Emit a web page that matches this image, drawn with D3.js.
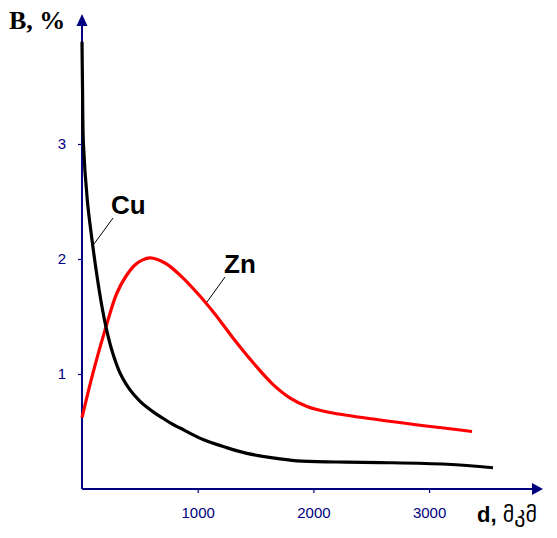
<!DOCTYPE html>
<html><head><meta charset="utf-8">
<script src="https://cdn.jsdelivr.net/npm/d3@7"></script>
<style>body{margin:0;background:#fff}svg{display:block}</style>
</head><body>
<svg id="c" width="557" height="538"></svg>
<script>
// Data
const xTicks = [1000, 2000, 3000];
const yTicks = [1, 2, 3];
const cuD = [0, 5, 12, 46, 86, 130, 170, 207, 260, 328, 380, 440, 500, 562, 630, 700, 770, 847, 1046, 1250, 1426, 1650, 1858, 2200, 2576, 3155, 3552];
const cuB = [3.89, 3.45, 3.01, 2.51, 2.17, 1.85, 1.60, 1.41, 1.20, 1.01, 0.915, 0.83, 0.765, 0.71, 0.66, 0.615, 0.57, 0.53, 0.43, 0.36, 0.31, 0.27, 0.245, 0.235, 0.23, 0.215, 0.185];
const znD = [0, 95, 207, 300, 380, 460, 520, 588, 717, 847, 1000, 1150, 1300, 1478, 1650, 1800, 1950, 2143, 2576, 3371];
const znB = [0.62, 1.01, 1.41, 1.70, 1.85, 1.95, 1.99, 2.01, 1.965, 1.86, 1.70, 1.52, 1.32, 1.10, 0.91, 0.79, 0.715, 0.665, 0.60, 0.50];
const seriesNames = ["Cu", "Zn"];
const yTitle = "B, %";
const xTitle = "d, ";
const xUnit = "მკმ";

const svg = d3.select("#c");
const navy = "#000080";
const x = d3.scaleLinear().domain([0, 4000]).range([82, 544.8]);
const y = d3.scaleLinear().domain([0, 4]).range([489, 29]);

// axes
const xa = svg.append("g").attr("transform", `translate(0,${y(0)})`)
  .call(d3.axisBottom(x).tickValues(xTicks).tickSize(4).tickPadding(14).tickFormat(d3.format("d")));
const ya = svg.append("g").attr("transform", `translate(${x(0)},0)`)
  .call(d3.axisLeft(y).tickValues(yTicks).tickSize(4).tickPadding(14).tickFormat(d3.format("d")));
[xa, ya].forEach(a => {
  a.attr("font-size", 15).attr("font-family", "Liberation Sans, Arial, sans-serif");
  a.select(".domain").remove();
  a.selectAll("line").attr("stroke", navy).attr("stroke-width", 1.2);
  a.selectAll("text").attr("fill", navy);
});
ya.selectAll("text").attr("text-anchor", "middle").attr("dx", "-2");

// axis lines with arrows
svg.append("line").attr("x1", x(0)).attr("y1", y(0)).attr("x2", 534).attr("y2", y(0))
  .attr("stroke", navy).attr("stroke-width", 2);
svg.append("path").attr("d", `M543,${y(0)} L532,${y(0)-6} L532,${y(0)+6} Z`).attr("fill", navy);
svg.append("line").attr("x1", x(0)).attr("y1", y(0)).attr("x2", x(0)).attr("y2", 25)
  .attr("stroke", navy).attr("stroke-width", 2);
svg.append("path").attr("d", `M${x(0)},14 L${x(0)-5.5},26 L${x(0)+5.5},26 Z`).attr("fill", navy);

// curves
const line = d3.line().x(d => x(d[0])).y(d => y(d[1])).curve(d3.curveCatmullRom.alpha(0.5));
const cu = cuD.map((d, i) => [d, cuB[i]]);
const zn = znD.map((d, i) => [d, znB[i]]);
svg.append("path").attr("d", line(zn)).attr("fill", "none").attr("stroke", "#ff0000").attr("stroke-width", 3.2);
svg.append("path").attr("d", line(cu)).attr("fill", "none").attr("stroke", "#000").attr("stroke-width", 3.2);

// labels
const lab = (t, px, py) => svg.append("text").attr("x", px).attr("y", py).text(t)
  .style("font-family", "Liberation Sans, Arial, sans-serif").style("font-weight", "bold").style("font-size", "26px");
lab(seriesNames[0], 111, 214);
lab(seriesNames[1], 224, 273);
svg.append("line").attr("x1", 113).attr("y1", 218).attr("x2", 94).attr("y2", 244).attr("stroke", "#000").attr("stroke-width", 1);
svg.append("line").attr("x1", 225).attr("y1", 277).attr("x2", 207).attr("y2", 302).attr("stroke", "#000").attr("stroke-width", 1);

svg.append("text").attr("x", 9).attr("y", 29).text(yTitle)
  .style("font-family", "Liberation Serif, Times New Roman, serif").style("font-weight", "bold").style("font-size", "26px");
const xt = svg.append("text").attr("x", 477).attr("y", 522)
  .style("font-family", "Liberation Sans, Arial, DejaVu Sans, sans-serif").style("font-size", "22px");
xt.append("tspan").style("font-weight", "bold").text(xTitle);
xt.append("tspan").style("font-family", "DejaVu Sans, sans-serif").style("font-size", "22px").text(xUnit);
</script>
</body></html>
